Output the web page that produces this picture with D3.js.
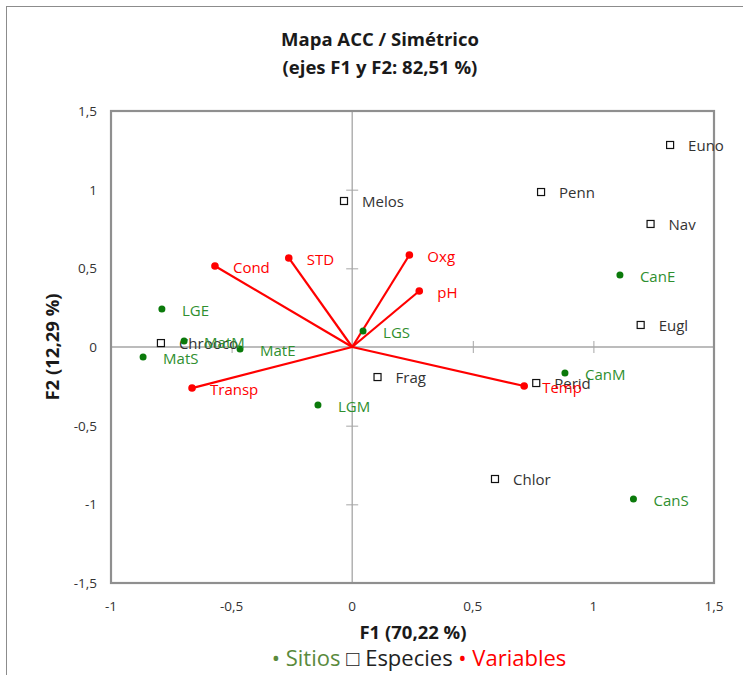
<!DOCTYPE html>
<html>
<head>
<meta charset="utf-8">
<script src="https://cdn.jsdelivr.net/npm/d3@7"></script>
<style>
  body { margin: 0; background: #fff; }
  text { font-family: "Open Sans", "Noto Sans", sans-serif; }
</style>
</head>
<body>
<svg id="graph" width="743" height="675"></svg>
<script>
//Sites (green dots)
let siteNames = ["LGE", "MatM", "MatE", "MatS", "LGS", "LGM", "CanE", "CanM", "CanS"];
let siteF1 = [-0.789, -0.697, -0.465, -0.867, 0.045, -0.142, 1.110, 0.882, 1.166];
let siteF2 = [0.242, 0.038, -0.013, -0.064, 0.102, -0.369, 0.458, -0.165, -0.966];

//Species (open squares)
let specNames = ["Euno", "Penn", "Nav", "Eugl", "Melos", "Chrooco", "Frag", "Perid", "Chlor"];
let specF1 = [1.318, 0.783, 1.237, 1.196, -0.034, -0.793, 0.105, 0.763, 0.592];
let specF2 = [1.284, 0.985, 0.782, 0.140, 0.928, 0.025, -0.191, -0.229, -0.839];

//Variables (red vectors)
let varNames = ["Cond", "STD", "Oxg", "pH", "Temp", "Transp"];
let varF1 = [-0.569, -0.263, 0.237, 0.278, 0.713, -0.664];
let varF2 = [0.515, 0.566, 0.585, 0.356, -0.248, -0.261];

//Axis ticks
let xTicks = [-1, -0.5, 0, 0.5, 1, 1.5];
let yTicks = [-1.5, -1, -0.5, 0, 0.5, 1, 1.5];

let green = "#0b7a0b", greenText = "#2f8f2f", red = "#ff0000";
let fmt = function (v) { return String(v).replace(".", ","); };

let svg = d3.select("#graph");
//outer chart frame
svg.append("rect").attr("x", 6.5).attr("y", 6.5).attr("width", 760).attr("height", 700)
  .attr("fill", "none").attr("stroke", "#8c8c8c").attr("stroke-width", 1);

let margin = { top: 111, left: 111, right: 29, bottom: 92 };
let width = 743 - margin.left - margin.right;
let height = 675 - margin.top - margin.bottom;

let x = d3.scaleLinear().domain([-1, 1.5]).range([margin.left, margin.left + width]);
let y = d3.scaleLinear().domain([-1.5, 1.5]).range([margin.top + height, margin.top]);

//title
svg.append("text").attr("x", 380).attr("y", 46).attr("text-anchor", "middle")
  .attr("font-size", 18.5).attr("font-weight", "bold").attr("fill", "#1a1a1a").text("Mapa ACC / Simétrico");
svg.append("text").attr("x", 380).attr("y", 74).attr("text-anchor", "middle")
  .attr("font-size", 18.5).attr("font-weight", "bold").attr("fill", "#1a1a1a").text("(ejes F1 y F2: 82,51 %)");

//zero axes with cross ticks
let axX = d3.axisBottom(x).tickValues(xTicks.filter(function (d) { return d !== 0 && d !== -1 && d !== 1.5; }))
  .tickSize(12).tickFormat("");
svg.append("g").attr("transform", "translate(0," + (y(0) - 6) + ")").call(axX)
  .call(function (g) { g.select(".domain").remove(); })
  .selectAll("line").attr("stroke", "#a6a6a6");
svg.append("line").attr("x1", x(-1)).attr("x2", x(1.5)).attr("y1", y(0)).attr("y2", y(0))
  .attr("stroke", "#a6a6a6").attr("stroke-width", 1.3);

let axY = d3.axisLeft(y).tickValues(yTicks.filter(function (d) { return d !== 0 && d !== -1.5 && d !== 1.5; }))
  .tickSize(12).tickFormat("");
svg.append("g").attr("transform", "translate(" + (x(0) + 6) + ",0)").call(axY)
  .call(function (g) { g.select(".domain").remove(); })
  .selectAll("line").attr("stroke", "#a6a6a6");
svg.append("line").attr("x1", x(0)).attr("x2", x(0)).attr("y1", y(-1.5)).attr("y2", y(1.5))
  .attr("stroke", "#a6a6a6").attr("stroke-width", 1.3);

//plot frame
svg.append("rect").attr("x", margin.left).attr("y", margin.top).attr("width", width).attr("height", height)
  .attr("fill", "none").attr("stroke", "#8f8f8f").attr("stroke-width", 2.2);

//tick labels at the frame edges
svg.selectAll(".xlab").data(xTicks).enter().append("text").attr("class", "xlab")
  .attr("x", function (d) { return x(d); }).attr("y", margin.top + height + 28)
  .attr("text-anchor", "middle").attr("font-size", 13.5).attr("fill", "#333").text(fmt);
svg.selectAll(".ylab").data(yTicks).enter().append("text").attr("class", "ylab")
  .attr("x", margin.left - 14).attr("y", function (d) { return y(d) + 5; })
  .attr("text-anchor", "end").attr("font-size", 13.5).attr("fill", "#333").text(fmt);

//axis names
svg.append("text").attr("x", 413).attr("y", 639).attr("text-anchor", "middle")
  .attr("font-family", "Liberation Sans, Arial, sans-serif").attr("font-size", 18.5).attr("font-weight", "bold")
  .attr("fill", "#1a1a1a").text("F1 (70,22 %)");
svg.append("text").attr("transform", "translate(59," + y(0) + ") rotate(-90)").attr("text-anchor", "middle")
  .attr("font-family", "Liberation Sans, Arial, sans-serif").attr("font-size", 18.5).attr("font-weight", "bold")
  .attr("fill", "#1a1a1a").text("F2 (12,29 %)");

//variable vectors
let vars = varNames.map(function (n, i) { return { name: n, f1: varF1[i], f2: varF2[i] }; });
svg.selectAll(".vec").data(vars).enter().append("line").attr("class", "vec")
  .attr("x1", x(0)).attr("y1", y(0))
  .attr("x2", function (d) { return x(d.f1); }).attr("y2", function (d) { return y(d.f2); })
  .attr("stroke", red).attr("stroke-width", 2.2);

//species
let spec = specNames.map(function (n, i) { return { name: n, f1: specF1[i], f2: specF2[i] }; });
svg.selectAll(".spec").data(spec).enter().append("rect").attr("class", "spec")
  .attr("x", function (d) { return x(d.f1) - 3.5; }).attr("y", function (d) { return y(d.f2) - 3.5; })
  .attr("width", 7).attr("height", 7).attr("fill", "#fff").attr("stroke", "#111").attr("stroke-width", 1.2);
svg.selectAll(".specl").data(spec).enter().append("text").attr("class", "specl")
  .attr("x", function (d) { return x(d.f1) + 18; }).attr("y", function (d) { return y(d.f2) + 6; })
  .attr("font-size", 15).attr("fill", "#333").text(function (d) { return d.name; });

//sites
let sites = siteNames.map(function (n, i) { return { name: n, f1: siteF1[i], f2: siteF2[i] }; });
svg.selectAll(".site").data(sites).enter().append("circle").attr("class", "site")
  .attr("cx", function (d) { return x(d.f1); }).attr("cy", function (d) { return y(d.f2); })
  .attr("r", 3.5).attr("fill", green);
svg.selectAll(".sitel").data(sites).enter().append("text").attr("class", "sitel")
  .attr("x", function (d) { return x(d.f1) + 20; }).attr("y", function (d) { return y(d.f2) + 7; })
  .attr("font-size", 15).attr("fill", greenText).text(function (d) { return d.name; });

//variable end points and labels
svg.selectAll(".vdot").data(vars).enter().append("circle").attr("class", "vdot")
  .attr("cx", function (d) { return x(d.f1); }).attr("cy", function (d) { return y(d.f2); })
  .attr("r", 3.8).attr("fill", red);
svg.selectAll(".vlab").data(vars).enter().append("text").attr("class", "vlab")
  .attr("x", function (d) { return x(d.f1) + 18; }).attr("y", function (d) { return y(d.f2) + 7; })
  .attr("font-size", 15).attr("fill", red).text(function (d) { return d.name; });

//legend
let legend = svg.append("text").attr("x", 419).attr("y", 666).attr("text-anchor", "middle")
  .attr("font-family", "Liberation Sans Narrow, Open Sans, sans-serif").attr("font-size", 22);
legend.append("tspan").attr("fill", "#5a8a3c").text("• Sitios ");
legend.append("tspan").attr("fill", "#222").text("□ Especies ");
legend.append("tspan").attr("fill", red).text("• Variables");
</script>
</body>
</html>
